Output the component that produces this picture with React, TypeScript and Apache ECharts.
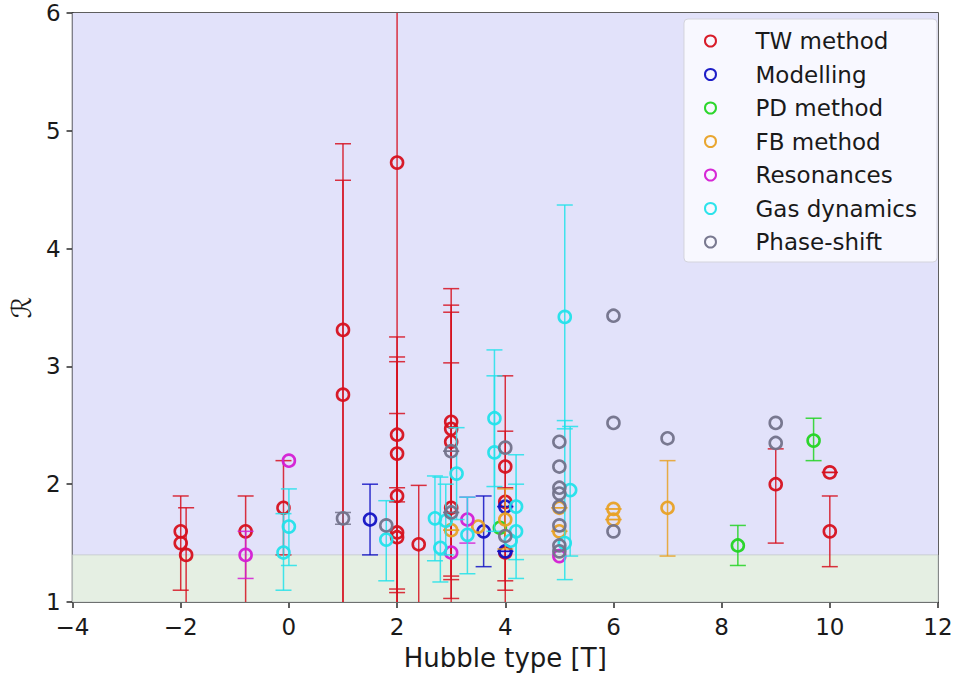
import React, { useEffect, useRef } from "react";
import * as echarts from "echarts";

// Each point: [Hubble type T, ratio R, lower error end, upper error end]
type Pt = [number, number, number | null, number | null];

const TW_METHOD: Pt[] = [
  [-2.0, 1.6, 1.1, 1.9],
  [-2.0, 1.5, null, null],
  [-1.9, 1.4, 0.8, 1.8],
  [-0.8, 1.6, 0.7, 1.9],
  [-0.1, 1.8, 1.4, 2.2],
  [1.0, 3.31, 0.6, 4.89],
  [1.0, 2.76, 0.6, 4.58],
  [2.0, 4.73, 0.4, 8.0],
  [2.0, 2.42, 1.85, 3.25],
  [2.0, 2.26, 1.11, 3.08],
  [2.0, 1.9, 1.08, 3.04],
  [2.0, 1.59, 0.6, 2.6],
  [2.0, 1.55, 0.9, 1.97],
  [2.4, 1.49, 0.6, 1.99],
  [3.0, 2.53, 1.22, 3.66],
  [3.0, 2.47, 1.19, 3.52],
  [3.0, 2.36, 1.03, 3.46],
  [3.0, 1.8, 0.6, 3.03],
  [4.0, 2.15, 1.18, 2.92],
  [4.0, 1.85, 1.1, 2.45],
  [4.0, 1.42, 0.8, 1.97],
  [9.0, 2.0, 1.5, 2.3],
  [10.0, 2.1, 2.1, 2.1],
  [10.0, 1.6, 1.3, 1.9],
];

const MODELLING: Pt[] = [
  [1.5, 1.7, 1.4, 2.0],
  [3.6, 1.6, 1.3, 1.9],
  [4.0, 1.81, 1.81, 1.81],
  [4.0, 1.43, 1.43, 1.43],
];

const PD_METHOD: Pt[] = [
  [3.9, 1.63, null, null],
  [8.3, 1.48, 1.31, 1.65],
  [9.7, 2.37, 2.2, 2.56],
];

const FB_METHOD: Pt[] = [
  [3.0, 1.61, 1.61, 1.61],
  [3.5, 1.64, null, null],
  [4.0, 1.7, 1.45, 1.96],
  [5.0, 1.8, 1.8, 1.8],
  [5.0, 1.6, 1.6, 1.6],
  [6.0, 1.79, 1.79, 1.79],
  [6.0, 1.7, 1.7, 1.7],
  [7.0, 1.8, 1.39, 2.2],
];

const RESONANCES: Pt[] = [
  [-0.8, 1.4, 1.2, 1.6],
  [0.0, 2.2, null, null],
  [3.0, 1.42, null, null],
  [3.3, 1.7, 1.5, 1.89],
  [5.0, 1.39, null, null],
];

const GAS_DYNAMICS: Pt[] = [
  [-0.1, 1.42, 1.1, 1.75],
  [0.0, 1.64, 1.31, 1.96],
  [1.8, 1.53, 1.18, 1.86],
  [2.7, 1.71, 1.35, 2.07],
  [2.8, 1.46, 1.17, 2.06],
  [2.9, 1.69, 1.4, 2.0],
  [3.1, 2.09, 1.7, 2.48],
  [3.3, 1.57, 1.24, 1.89],
  [3.8, 2.56, 1.98, 3.14],
  [3.8, 2.27, 1.6, 2.92],
  [4.2, 1.81, 1.36, 2.25],
  [4.2, 1.6, 1.2, 2.0],
  [4.1, 1.52, null, null],
  [5.1, 3.42, 2.47, 4.37],
  [5.1, 1.5, 1.19, 2.54],
  [5.2, 1.95, 1.39, 2.49],
];

const PHASE_SHIFT: Pt[] = [
  [1.0, 1.71, 1.66, 1.76],
  [1.8, 1.65, null, null],
  [3.0, 2.28, 2.28, 2.28],
  [3.0, 1.76, 1.76, 1.76],
  [4.0, 2.31, null, null],
  [4.0, 1.56, null, null],
  [5.0, 2.36, null, null],
  [5.0, 2.15, null, null],
  [5.0, 1.97, null, null],
  [5.0, 1.92, null, null],
  [5.0, 1.81, null, null],
  [5.0, 1.65, null, null],
  [5.0, 1.48, null, null],
  [5.0, 1.43, null, null],
  [6.0, 3.43, null, null],
  [6.0, 2.52, null, null],
  [6.0, 1.6, null, null],
  [7.0, 2.39, null, null],
  [9.0, 2.52, null, null],
  [9.0, 2.35, null, null],
];

const GROUPS: { name: string; color: string; points: Pt[] }[] = [
  { name: "TW method", color: "#d6101e", points: TW_METHOD },
  { name: "Modelling", color: "#1212c4", points: MODELLING },
  { name: "PD method", color: "#22d422", points: PD_METHOD },
  { name: "FB method", color: "#e8a125", points: FB_METHOD },
  { name: "Resonances", color: "#d41cd4", points: RESONANCES },
  { name: "Gas dynamics", color: "#22e2ea", points: GAS_DYNAMICS },
  { name: "Phase-shift", color: "#72728a", points: PHASE_SHIFT },
];

const X_MIN = -4;
const X_MAX = 12;
const Y_MIN = 1;
const Y_MAX = 6;
const BAND_TOP = 1.4;

const FONT = "DejaVu Sans";

const fmtTick = (v: number) => (v < 0 ? "\u2212" + Math.abs(v) : String(v));

export default function App() {
  const ref = useRef<HTMLDivElement>(null);

  useEffect(() => {
    if (!ref.current) return;
    const chart = echarts.init(ref.current, null, { renderer: "svg" });

    const series: any[] = [];

    // shaded regions behind everything
    series.push({
      type: "line",
      name: "__bands",
      data: [],
      silent: true,
      z: 0,
      markArea: {
        silent: true,
        data: [
          [
            { xAxis: X_MIN, yAxis: BAND_TOP, itemStyle: { color: "#e2e2fa", borderWidth: 0 } },
            { xAxis: X_MAX, yAxis: Y_MAX },
          ],
          [
            {
              xAxis: X_MIN,
              yAxis: Y_MIN,
              itemStyle: { color: "#e5efe3", borderColor: "#c2c8c8", borderWidth: 0.8 },
            },
            { xAxis: X_MAX, yAxis: BAND_TOP },
          ],
        ],
      },
    });

    GROUPS.forEach((g, gi) => {
      const errData = g.points.filter((p) => p[2] !== null && p[3] !== null);
      series.push({
        type: "custom",
        name: g.name + " err",
        z: 2 + gi * 2,
        silent: true,
        data: errData,
        renderItem: (_params: any, api: any) => {
          const x = api.value(0);
          const lo = api.value(2);
          const hi = api.value(3);
          const clamp = (v: number) => Math.max(Y_MIN, Math.min(Y_MAX, v));
          const pTop = api.coord([x, clamp(hi)]);
          const pBot = api.coord([x, clamp(lo)]);
          const style = { stroke: g.color, lineWidth: 1.5, opacity: 0.85 };
          const children: any[] = [
            {
              type: "line",
              shape: { x1: pBot[0], y1: pBot[1], x2: pTop[0], y2: pTop[1] },
              style,
            },
          ];
          const half = 8;
          [lo, hi].forEach((v: number) => {
            if (v >= Y_MIN && v <= Y_MAX) {
              const p = api.coord([x, v]);
              children.push({
                type: "line",
                shape: { x1: p[0] - half, y1: p[1], x2: p[0] + half, y2: p[1] },
                style,
              });
            }
          });
          return { type: "group", children };
        },
      });
      series.push({
        type: "scatter",
        name: g.name,
        z: 3 + gi * 2,
        symbol: "circle",
        symbolSize: 12,
        data: g.points.map((p) => [p[0], p[1]]),
        itemStyle: {
          color: "rgba(0,0,0,0)",
          borderColor: g.color,
          borderWidth: 2.6,
          opacity: 0.95,
        },
      });
    });

    chart.setOption({
      animation: false,
      backgroundColor: "#ffffff",
      textStyle: { fontFamily: FONT },
      grid: {
        left: 70,
        right: 18,
        top: 13,
        bottom: 73,
        show: true,
        borderColor: "#2a2a2a",
        borderWidth: 1.5,
        backgroundColor: "transparent",
      },
      legend: {
        data: GROUPS.map((g) => g.name),
        orient: "vertical",
        right: 19,
        top: 19,
        padding: [10, 20, 8, 20],
        itemGap: 9.5,
        itemWidth: 20,
        itemHeight: 11,
        icon: "circle",
        backgroundColor: "rgba(250,250,255,0.92)",
        borderColor: "#d4d4dc",
        borderWidth: 1,
        borderRadius: 4,
        selectedMode: false,
        textStyle: {
          fontFamily: FONT,
          fontSize: 23,
          color: "#1a1a1a",
          padding: [0, 0, 0, 30],
          lineHeight: 24,
        },
      },
      xAxis: {
        type: "value",
        min: X_MIN,
        max: X_MAX,
        interval: 2,
        name: "Hubble type [T]",
        nameLocation: "middle",
        nameGap: 43,
        nameTextStyle: { fontFamily: FONT, fontSize: 26, color: "#1a1a1a" },
        splitLine: { show: false },
        axisLine: { show: true, onZero: false, lineStyle: { color: "#2a2a2a", width: 1.5 } },
        axisTick: { show: true, inside: false, length: 6, lineStyle: { color: "#2a2a2a", width: 1.5 } },
        axisLabel: {
          fontFamily: FONT,
          fontSize: 23,
          color: "#1a1a1a",
          margin: 13,
          formatter: fmtTick,
        },
      },
      yAxis: {
        type: "value",
        min: Y_MIN,
        max: Y_MAX,
        interval: 1,
        name: "\u211B",
        nameLocation: "middle",
        nameGap: 37,
        nameRotate: 90,
        nameTextStyle: { fontFamily: FONT, fontSize: 27, color: "#1a1a1a" },
        splitLine: { show: false },
        axisLine: { show: true, onZero: false, lineStyle: { color: "#2a2a2a", width: 1.5 } },
        axisTick: { show: true, inside: false, length: 6, lineStyle: { color: "#2a2a2a", width: 1.5 } },
        axisLabel: {
          fontFamily: FONT,
          fontSize: 23,
          color: "#1a1a1a",
          margin: 12,
          formatter: fmtTick,
        },
      },
      series,
    });

    return () => chart.dispose();
  }, []);

  return (
    <div
      ref={ref}
      style={{ position: "fixed", left: 0, top: 0, width: 956, height: 676, background: "#fff" }}
    />
  );
}
